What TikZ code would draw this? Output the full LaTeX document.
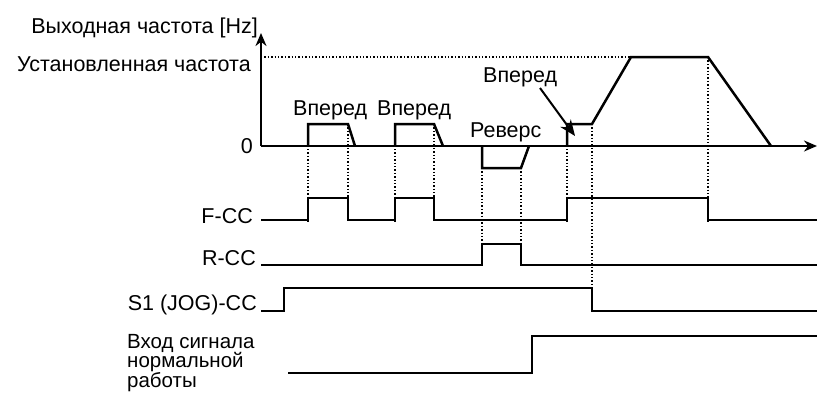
\documentclass[tikz,border=0pt]{standalone}
\usepackage{fontspec}
\setmainfont{Liberation Sans}
\usetikzlibrary{arrows.meta}
\tikzset{
  sig/.style={line width=2.5pt, line join=miter},
  axis/.style={line width=2.5pt, -{Stealth[length=13pt,width=11pt]}},
  guide/.style={line width=1.4pt, dotted},
  lbl/.style={inner sep=0pt, font=\fontsize{21.5}{22}\selectfont},
  lblsm/.style={inner sep=0pt, font=\fontsize{20.5}{20}\selectfont},
  pointer/.style={line width=2pt, -{Stealth[length=16pt,width=13pt]}}
}
\begin{document}
\begin{tikzpicture}[x=1pt,y=-1pt]
\useasboundingbox (0,0) rectangle (817,392);
% axes
\coordinate (O) at (261,146);
\coordinate (ytop) at (261,33);
\coordinate (xend) at (817,146);
\draw[axis] (O) -- (ytop);
\draw[axis] (O) -- (xend);
% guides
\draw[guide] (261,57) -- (631,57);
\draw[guide] (308,149) -- (308,222);
\draw[guide] (348,124) -- (348,222);
\draw[guide] (395,149) -- (395,222);
\draw[guide] (434,124) -- (434,222);
\draw[guide] (482,168) -- (482,266);
\draw[guide] (521,168) -- (521,266);
\draw[guide] (567,149) -- (567,222);
\draw[guide] (592,124) -- (592,290);
\draw[guide] (708,57) -- (708,222);
% frequency
\draw[sig] (308,146) -- (308,124) -- (348,124) -- (355,146);
\draw[sig] (395,146) -- (395,124) -- (434,124) -- (443,146);
\draw[sig] (482,146) -- (482,168) -- (521,168) -- (529,146);
\draw[sig] (567,146) -- (567,124) -- (592,124) -- (631,57) -- (708,57) -- (771,146);
% F-CC
\draw[sig] (261,220) -- (308,220) -- (308,198) -- (348,198) -- (348,220) -- (395,220) -- (395,198) -- (434,198) -- (434,220) -- (567,220) -- (567,198) -- (708,198) -- (708,220) -- (817,220);
% R-CC
\draw[sig] (261,265) -- (482,265) -- (482,244) -- (521,244) -- (521,265) -- (817,265);
% S1
\draw[sig] (261,311) -- (284,311) -- (284,288) -- (592,288) -- (592,311) -- (817,311);
% normal
\draw[sig] (288,373) -- (532,373) -- (532,336) -- (817,336);
% labels
\node[lbl, anchor=base east] (tf) at (258,33) {Выходная частота [Hz]};
\node[lbl, anchor=base east] (tset) at (251,71) {Установленная частота};
\node[lbl, anchor=base east] (tzero) at (253,153) {0};
\node[lbl, anchor=base west] (tfw1) at (293,115) {Вперед};
\node[lbl, anchor=base west] (tfw2) at (377,115) {Вперед};
\node[lbl, anchor=base west] (trev) at (470,137) {Реверс};
\node[lbl, anchor=base west] (tfw3) at (483,82) {Вперед};
\node[lbl, anchor=base east] (tfcc) at (253,223) {F-CC};
\node[lbl, anchor=base east] (trcc) at (256,265) {R-CC};
\node[lbl, anchor=base east] (ts1) at (257,310) {S1 (JOG)-CC};
\node[lblsm, anchor=base west] (tnorm1) at (127,348) {Вход сигнала};
\node[lblsm, anchor=base west] (tnorm2) at (127,367.5) {нормальной};
\node[lblsm, anchor=base west] (tnorm3) at (127,387) {работы};
\coordinate (jogtip) at (575,136);
\draw[pointer] (540,88) -- (jogtip);
\end{tikzpicture}
\end{document}
